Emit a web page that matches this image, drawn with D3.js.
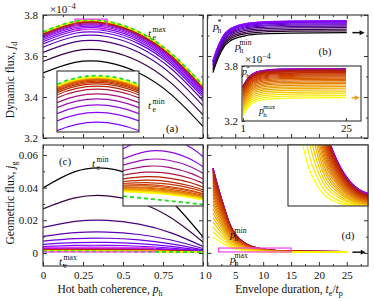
<!DOCTYPE html>
<html>
<head>
<meta charset="utf-8">
<script src="https://cdn.jsdelivr.net/npm/d3@7"></script>
<style>
body { margin: 0; background: #fff; }
svg text { font-family: "Liberation Serif", "Times New Roman", serif; fill: #111; }
.tick text { font-size: 11px; font-family: "Liberation Serif", serif; fill: #111; }
.tick line { stroke: #333; stroke-width: 1; }
.domain { display: none; }
.frame { fill: none; stroke: #333; stroke-width: 1.1; }
.curve { fill: none; stroke-width: 1.2; }
.limit { fill: none; stroke: #1ee01e; stroke-width: 1.8; stroke-dasharray: 4,3; }
.zoombox { fill: none; stroke: #f040f0; stroke-width: 1.2; }
</style>
</head>
<body>
<svg id="fig" width="374" height="301"></svg>
<script>
// ---- data ----
// panels (a),(c): one curve per envelope duration t_e, sampled along p_h
var teA = [1, 2, 3, 4, 5, 6, 7, 8, 9, 10, 11, 12, 13, 14, 15, 16, 17, 18, 19, 20, 21, 22, 23, 24, 25];
var phA = [0, 0.2, 0.4, 0.6, 0.8, 1];
// dynamic flux j_d, units of 1e-4
var jdA = [
    [3.517, 3.569, 3.569, 3.517, 3.413, 3.257],
    [3.573, 3.625, 3.625, 3.573, 3.469, 3.313],
    [3.617, 3.669, 3.669, 3.617, 3.513, 3.357],
    [3.643, 3.695, 3.695, 3.643, 3.539, 3.383],
    [3.659, 3.711, 3.711, 3.659, 3.555, 3.399],
    [3.670, 3.722, 3.722, 3.670, 3.566, 3.410],
    [3.679, 3.731, 3.731, 3.679, 3.575, 3.419],
    [3.687, 3.739, 3.739, 3.687, 3.583, 3.427],
    [3.693, 3.745, 3.745, 3.693, 3.589, 3.433],
    [3.698, 3.750, 3.750, 3.698, 3.594, 3.438],
    [3.702, 3.754, 3.754, 3.702, 3.598, 3.442],
    [3.706, 3.758, 3.758, 3.706, 3.602, 3.446],
    [3.7085, 3.7605, 3.7605, 3.7085, 3.6045, 3.4485],
    [3.7102, 3.7622, 3.7622, 3.7102, 3.6062, 3.4502],
    [3.7115, 3.7635, 3.7635, 3.7115, 3.6075, 3.4515],
    [3.7125, 3.7645, 3.7645, 3.7125, 3.6085, 3.4525],
    [3.7133, 3.7653, 3.7653, 3.7133, 3.6093, 3.4533],
    [3.7139, 3.7659, 3.7659, 3.7139, 3.6099, 3.4539],
    [3.7144, 3.7664, 3.7664, 3.7144, 3.6104, 3.4544],
    [3.7148, 3.7668, 3.7668, 3.7148, 3.6108, 3.4548],
    [3.7151, 3.7671, 3.7671, 3.7151, 3.6111, 3.4551],
    [3.7154, 3.7674, 3.7674, 3.7154, 3.6114, 3.4554],
    [3.7156, 3.7676, 3.7676, 3.7156, 3.6116, 3.4556],
    [3.7158, 3.7678, 3.7678, 3.7158, 3.6118, 3.4558],
    [3.716, 3.768, 3.768, 3.716, 3.612, 3.456]
];
var jdLimit = [3.717, 3.769, 3.769, 3.717, 3.613, 3.457];
// geometric flux j_g, units of 1e-3
var jgA = [
    [39.8, 49.8, 51.8, 45.8, 31.8, 9.8],
    [27.0, 33.7, 35.0, 30.9, 21.5, 6.7],
    [15.6, 19.3, 20.0, 17.6, 12.3, 4.0],
    [10.1, 12.4, 12.8, 11.3, 7.9, 2.7],
    [7.23, 8.74, 8.98, 7.94, 5.59, 1.95],
    [5.29, 6.30, 6.43, 5.68, 4.03, 1.48],
    [3.93, 4.59, 4.65, 4.10, 2.94, 1.16],
    [3.04, 3.46, 3.47, 3.07, 2.22, 0.94],
    [2.61, 2.92, 2.91, 2.57, 1.88, 0.84],
    [2.34, 2.58, 2.55, 2.25, 1.66, 0.78],
    [2.11, 2.29, 2.25, 1.98, 1.47, 0.72],
    [1.91, 2.04, 1.99, 1.76, 1.32, 0.67],
    [1.76, 1.85, 1.79, 1.58, 1.19, 0.64],
    [1.64, 1.70, 1.64, 1.44, 1.10, 0.61],
    [1.56, 1.60, 1.53, 1.35, 1.04, 0.59],
    [1.49, 1.51, 1.43, 1.26, 0.97, 0.57],
    [1.45, 1.46, 1.38, 1.22, 0.94, 0.56],
    [1.40, 1.40, 1.32, 1.16, 0.91, 0.55],
    [1.37, 1.36, 1.27, 1.12, 0.88, 0.54],
    [1.33, 1.32, 1.23, 1.09, 0.85, 0.54],
    [1.31, 1.28, 1.20, 1.05, 0.83, 0.53],
    [1.28, 1.25, 1.16, 1.02, 0.81, 0.52],
    [1.26, 1.22, 1.13, 1.00, 0.79, 0.52],
    [1.23, 1.19, 1.10, 0.97, 0.77, 0.51],
    [1.21, 1.16, 1.08, 0.95, 0.76, 0.51]
];
var jgLimit = [1.02, 0.92, 0.82, 0.72, 0.60, 0.46];

// panels (b),(d): one curve per hot bath coherence p_h, sampled along t_e/t_p
var teB = [1, 1.5, 2, 3, 4, 5, 7, 10, 15, 25];
var phB = [0, 0.025, 0.05, 0.075, 0.1, 0.125, 0.15, 0.175, 0.2, 0.225, 0.25, 0.275, 0.3,
    0.325, 0.35, 0.375, 0.4, 0.425, 0.45, 0.475, 0.5, 0.525, 0.55, 0.575, 0.6, 0.625, 0.65,
    0.675, 0.7, 0.725, 0.75, 0.775, 0.8, 0.825, 0.85, 0.875, 0.9, 0.925, 0.95, 0.975, 1];
var jdB = [
    [3.519, 3.559, 3.594, 3.646, 3.672, 3.686, 3.700, 3.708, 3.712, 3.714],
    [3.528, 3.568, 3.603, 3.655, 3.681, 3.695, 3.709, 3.717, 3.721, 3.723],
    [3.536, 3.576, 3.611, 3.663, 3.689, 3.703, 3.717, 3.725, 3.729, 3.731],
    [3.544, 3.584, 3.619, 3.671, 3.697, 3.711, 3.725, 3.733, 3.737, 3.739],
    [3.551, 3.591, 3.626, 3.678, 3.704, 3.718, 3.732, 3.740, 3.744, 3.746],
    [3.557, 3.597, 3.632, 3.684, 3.710, 3.724, 3.738, 3.746, 3.750, 3.752],
    [3.562, 3.602, 3.637, 3.689, 3.715, 3.729, 3.743, 3.751, 3.755, 3.757],
    [3.567, 3.607, 3.642, 3.694, 3.720, 3.734, 3.748, 3.756, 3.760, 3.762],
    [3.571, 3.611, 3.646, 3.698, 3.724, 3.738, 3.752, 3.760, 3.764, 3.766],
    [3.573, 3.613, 3.648, 3.700, 3.726, 3.740, 3.754, 3.762, 3.766, 3.768],
    [3.575, 3.615, 3.650, 3.702, 3.728, 3.742, 3.756, 3.764, 3.768, 3.770],
    [3.577, 3.617, 3.652, 3.704, 3.730, 3.744, 3.758, 3.766, 3.770, 3.772],
    [3.577, 3.617, 3.652, 3.704, 3.730, 3.744, 3.758, 3.766, 3.770, 3.772],
    [3.577, 3.617, 3.652, 3.704, 3.730, 3.744, 3.758, 3.766, 3.770, 3.772],
    [3.575, 3.615, 3.650, 3.702, 3.728, 3.742, 3.756, 3.764, 3.768, 3.770],
    [3.573, 3.613, 3.648, 3.700, 3.726, 3.740, 3.754, 3.762, 3.766, 3.768],
    [3.571, 3.611, 3.646, 3.698, 3.724, 3.738, 3.752, 3.760, 3.764, 3.766],
    [3.567, 3.607, 3.642, 3.694, 3.720, 3.734, 3.748, 3.756, 3.760, 3.762],
    [3.562, 3.602, 3.637, 3.689, 3.715, 3.729, 3.743, 3.751, 3.755, 3.757],
    [3.557, 3.597, 3.632, 3.684, 3.710, 3.724, 3.738, 3.746, 3.750, 3.752],
    [3.551, 3.591, 3.626, 3.678, 3.704, 3.718, 3.732, 3.740, 3.744, 3.746],
    [3.544, 3.584, 3.619, 3.671, 3.697, 3.711, 3.725, 3.733, 3.737, 3.739],
    [3.536, 3.576, 3.611, 3.663, 3.689, 3.703, 3.717, 3.725, 3.729, 3.731],
    [3.528, 3.568, 3.603, 3.655, 3.681, 3.695, 3.709, 3.717, 3.721, 3.723],
    [3.519, 3.559, 3.594, 3.646, 3.672, 3.686, 3.700, 3.708, 3.712, 3.714],
    [3.508, 3.548, 3.583, 3.635, 3.661, 3.675, 3.689, 3.697, 3.701, 3.703],
    [3.497, 3.537, 3.572, 3.624, 3.650, 3.664, 3.678, 3.686, 3.690, 3.692],
    [3.486, 3.526, 3.561, 3.613, 3.639, 3.653, 3.667, 3.675, 3.679, 3.681],
    [3.473, 3.513, 3.548, 3.600, 3.626, 3.640, 3.654, 3.662, 3.666, 3.668],
    [3.460, 3.500, 3.535, 3.587, 3.613, 3.627, 3.641, 3.649, 3.653, 3.655],
    [3.445, 3.485, 3.520, 3.572, 3.598, 3.612, 3.626, 3.634, 3.638, 3.640],
    [3.430, 3.470, 3.505, 3.557, 3.583, 3.597, 3.611, 3.619, 3.623, 3.625],
    [3.415, 3.455, 3.490, 3.542, 3.568, 3.582, 3.596, 3.604, 3.608, 3.610],
    [3.398, 3.438, 3.473, 3.525, 3.551, 3.565, 3.579, 3.587, 3.591, 3.593],
    [3.380, 3.420, 3.455, 3.507, 3.533, 3.547, 3.561, 3.569, 3.573, 3.575],
    [3.362, 3.402, 3.437, 3.489, 3.515, 3.529, 3.543, 3.551, 3.555, 3.557],
    [3.343, 3.383, 3.418, 3.470, 3.496, 3.510, 3.524, 3.532, 3.536, 3.538],
    [3.323, 3.363, 3.398, 3.450, 3.476, 3.490, 3.504, 3.512, 3.516, 3.518],
    [3.302, 3.342, 3.377, 3.429, 3.455, 3.469, 3.483, 3.491, 3.495, 3.497],
    [3.281, 3.321, 3.356, 3.408, 3.434, 3.448, 3.462, 3.470, 3.474, 3.476],
    [3.259, 3.299, 3.334, 3.386, 3.412, 3.426, 3.440, 3.448, 3.452, 3.454]
];
var phD = [0.3, 0.325, 0.35, 0.375, 0.4, 0.425, 0.45, 0.475, 0.5, 0.525, 0.55, 0.575, 0.6, 0.625,
    0.65, 0.675, 0.7, 0.725, 0.75, 0.775, 0.8, 0.825, 0.85, 0.875, 0.9, 0.925, 0.95, 0.975, 1];
var jgD = [
    [51.75, 45.13, 39.03, 27.83, 17.65, 11.54, 5.43, 2.38, 1.10, 0.85],
    [51.94, 45.30, 39.17, 27.92, 17.70, 11.57, 5.44, 2.37, 1.10, 0.84],
    [52.00, 45.35, 39.21, 27.95, 17.71, 11.57, 5.43, 2.36, 1.08, 0.82],
    [51.94, 45.29, 39.16, 27.91, 17.68, 11.55, 5.41, 2.34, 1.07, 0.81],
    [51.75, 45.13, 39.01, 27.80, 17.61, 11.50, 5.39, 2.33, 1.05, 0.80],
    [51.44, 44.85, 38.78, 27.63, 17.50, 11.42, 5.34, 2.30, 1.03, 0.78],
    [51.00, 44.47, 38.44, 27.39, 17.35, 11.32, 5.29, 2.28, 1.02, 0.77],
    [50.44, 43.98, 38.02, 27.09, 17.15, 11.18, 5.22, 2.24, 1.00, 0.75],
    [49.75, 43.38, 37.50, 26.72, 16.91, 11.03, 5.15, 2.21, 0.99, 0.74],
    [48.94, 42.67, 36.89, 26.28, 16.64, 10.85, 5.07, 2.18, 0.97, 0.73],
    [48.00, 41.85, 36.18, 25.77, 16.32, 10.64, 4.97, 2.13, 0.95, 0.71],
    [46.94, 40.93, 35.38, 25.21, 15.96, 10.41, 4.86, 2.09, 0.93, 0.70],
    [45.75, 39.89, 34.48, 24.57, 15.55, 10.14, 4.74, 2.03, 0.91, 0.68],
    [44.44, 38.75, 33.50, 23.87, 15.11, 9.86, 4.61, 1.98, 0.89, 0.67],
    [43.00, 37.50, 32.42, 23.10, 14.63, 9.55, 4.47, 1.93, 0.87, 0.66],
    [41.44, 36.14, 31.24, 22.26, 14.10, 9.21, 4.31, 1.86, 0.84, 0.64],
    [39.75, 34.66, 29.97, 21.36, 13.54, 8.85, 4.15, 1.80, 0.83, 0.63],
    [37.94, 33.09, 28.61, 20.39, 12.93, 8.45, 3.97, 1.73, 0.80, 0.61],
    [36.00, 31.40, 27.15, 19.36, 12.28, 8.03, 3.79, 1.66, 0.78, 0.60],
    [33.94, 29.60, 25.60, 18.27, 11.60, 7.59, 3.59, 1.59, 0.76, 0.59],
    [31.75, 27.70, 23.96, 17.10, 10.86, 7.12, 3.38, 1.51, 0.73, 0.57],
    [29.44, 25.69, 22.22, 15.87, 10.09, 6.62, 3.16, 1.43, 0.70, 0.56],
    [27.00, 23.56, 20.39, 14.56, 9.27, 6.10, 2.92, 1.33, 0.67, 0.54],
    [24.44, 21.33, 18.46, 13.20, 8.42, 5.55, 2.68, 1.25, 0.65, 0.53],
    [21.75, 18.99, 16.44, 11.77, 7.53, 4.98, 2.43, 1.16, 0.63, 0.52],
    [18.94, 16.54, 14.33, 10.27, 6.59, 4.37, 2.16, 1.05, 0.59, 0.50],
    [16.00, 13.98, 12.12, 8.71, 5.61, 3.75, 1.89, 0.96, 0.57, 0.49],
    [12.94, 11.32, 9.82, 7.08, 4.59, 3.09, 1.59, 0.84, 0.53, 0.47],
    [9.75, 8.54, 7.43, 5.38, 3.53, 2.41, 1.30, 0.74, 0.51, 0.46]
];

// ticks
var phTicks = [0, 0.25, 0.5, 0.75, 1];
var phMinor = [0.125, 0.375, 0.625, 0.875];
var teTicks = [0, 5, 10, 15, 20, 25];
var teMinor = [2.5, 7.5, 12.5, 17.5, 22.5, 27.5];
var jdTicks = [3.2, 3.4, 3.6, 3.8];
var jdMinor = [3.3, 3.5, 3.7];
var jgTicks = [0, 20, 40, 60];
var jgMinor = [10, 30, 50];

// ---- layout ----
var svg = d3.select("#fig");
var defs = svg.append("defs");

var xP = d3.scaleLinear().domain([0, 1]).range([43, 203]);
var xT = d3.scaleLinear().domain([0, 28.8]).range([207.4, 368]);
var yD = d3.scaleLinear().domain([3.2, 3.8]).range([138, 15]);
var yG = d3.scaleLinear().domain([-8, 66.1]).range([266, 145]);

// gnuplot-like palette (black - purple - red - yellow)
function pal(v) {
    var r = Math.sqrt(v), g = Math.pow(v, 3), b = Math.max(0, Math.sin(2 * Math.PI * v));
    return d3.rgb(255 * r, 255 * g, 255 * b).toString();
}

function clipFor(id, x, y) {
    var r = [x.range()[0], y.range()[1], x.range()[1] - x.range()[0], y.range()[0] - y.range()[1]];
    defs.append("clipPath").attr("id", id).append("rect")
        .attr("x", r[0]).attr("y", r[1]).attr("width", r[2]).attr("height", r[3]);
    return "url(#" + id + ")";
}

function frame(g, x, y, o) {
    var x0 = x.range()[0], x1 = x.range()[1], y0 = y.range()[1], y1 = y.range()[0];
    var bot = g.append("g").attr("transform", "translate(0," + y1 + ")")
        .call(d3.axisBottom(x).tickValues(o.xMaj).tickSizeInner(-4).tickSizeOuter(0).tickPadding(5).tickFormat(o.xFmt || ""));
    g.append("g").attr("transform", "translate(0," + y1 + ")")
        .call(d3.axisBottom(x).tickValues(o.xMin).tickSizeInner(-2).tickSizeOuter(0).tickFormat(""));
    g.append("g").attr("transform", "translate(0," + y0 + ")")
        .call(d3.axisBottom(x).tickValues(o.xMaj).tickSizeInner(4).tickSizeOuter(0).tickFormat(""));
    g.append("g").attr("transform", "translate(0," + y0 + ")")
        .call(d3.axisBottom(x).tickValues(o.xMin).tickSizeInner(2).tickSizeOuter(0).tickFormat(""));
    g.append("g").attr("transform", "translate(" + x0 + ",0)")
        .call(d3.axisLeft(y).tickValues(o.yMaj).tickSizeInner(-4).tickSizeOuter(0).tickPadding(5).tickFormat(o.yFmt || ""));
    g.append("g").attr("transform", "translate(" + x0 + ",0)")
        .call(d3.axisLeft(y).tickValues(o.yMin).tickSizeInner(-2).tickSizeOuter(0).tickFormat(""));
    g.append("g").attr("transform", "translate(" + x1 + ",0)")
        .call(d3.axisLeft(y).tickValues(o.yMaj).tickSizeInner(4).tickSizeOuter(0).tickFormat(""));
    g.append("g").attr("transform", "translate(" + x1 + ",0)")
        .call(d3.axisLeft(y).tickValues(o.yMin).tickSizeInner(2).tickSizeOuter(0).tickFormat(""));
    g.append("rect").attr("class", "frame")
        .attr("x", x0).attr("y", y0).attr("width", x1 - x0).attr("height", y1 - y0);
    return bot;
}

function lineOver(xs, x, y, curve) {
    return d3.line()
        .x(function(d, i) { return x(xs[i]); })
        .y(function(d) { return y(d); })
        .curve(curve);
}

function drawCurves(g, rows, gen, colorOf, width) {
    g.selectAll(null)
        .data(rows)
        .enter().append("path")
        .attr("class", "curve")
        .attr("d", gen)
        .attr("stroke", function(d, i) { return colorOf(i); })
        .attr("stroke-width", width || 1.2);
}

function inset(g, id, x, y) {
    var x0 = x.range()[0], x1 = x.range()[1], y0 = y.range()[1], y1 = y.range()[0];
    g.append("rect").attr("x", x0).attr("y", y0).attr("width", x1 - x0).attr("height", y1 - y0).attr("fill", "#fff");
    var c = g.append("g").attr("clip-path", clipFor(id, x, y));
    return c;
}

function zoomBox(g, x, y, xd, yd) {
    g.append("rect").attr("class", "zoombox")
        .attr("x", x(xd[0])).attr("y", y(yd[1]))
        .attr("width", x(xd[1]) - x(xd[0])).attr("height", y(yd[0]) - y(yd[1]));
}

function sym(g, x, y, base, sub, sup, fs) {
    fs = fs || 11;
    g.append("text").attr("x", x).attr("y", y).attr("font-size", fs).attr("font-style", "italic").text(base);
    var dx = fs * 0.42;
    if (sub) g.append("text").attr("x", x + dx).attr("y", y + 2.5).attr("font-size", fs * 0.7).text(sub);
    if (sup) g.append("text").attr("x", x + dx).attr("y", y - 5).attr("font-size", fs * 0.7).text(sup);
}

function arrow(g, xa, xb, y, color) {
    g.append("line").attr("x1", xa).attr("x2", xb - 3).attr("y1", y).attr("y2", y)
        .attr("stroke", color).attr("stroke-width", 1.5);
    g.append("path").attr("d", "M" + xb + "," + y + "l-5,-2.5v5z").attr("fill", color);
}

function expo(g, x, y) {
    var t = g.append("text").attr("x", x).attr("y", y).attr("font-size", 11);
    t.append("tspan").text("\u00d710");
    t.append("tspan").attr("dy", -4.5).attr("font-size", 8).text("\u22124");
}

var jdFmt = d3.format(".1f");
var jgFmt = function(d) { return d === 0 ? "0" : d3.format(".2f")(d / 1000); };
var phFmt = function(d) { return d === 0 ? "0" : d === 1 ? "1" : String(d); };

// ---- panel (a) ----
var ga = svg.append("g");
var ca = ga.append("g").attr("clip-path", clipFor("clipA", xP, yD));
drawCurves(ca, jdA, lineOver(phA, xP, yD, d3.curveNatural), function(i) { return pal((teA[i] - 1) / 24); });
ca.append("path").attr("class", "limit").attr("d", lineOver(phA, xP, yD, d3.curveNatural)(jdLimit));
zoomBox(ga, xP, yD, [0.2, 0.4], [3.73, 3.78]);
frame(ga, xP, yD, { xMaj: phTicks, xMin: phMinor, yMaj: jdTicks, yMin: jdMinor, yFmt: jdFmt });

var xAi = d3.scaleLinear().domain([0.2, 0.4]).range([57, 139]);
var yAi = d3.scaleLinear().domain([3.73, 3.78]).range([132, 71]);
var ia = inset(ga, "clipAi", xAi, yAi);
drawCurves(ia, jdA, lineOver(phA, xAi, yAi, d3.curveNatural), function(i) { return pal((teA[i] - 1) / 24); }, 1.4);
ia.append("path").attr("class", "limit").attr("d", lineOver(phA, xAi, yAi, d3.curveNatural)(jdLimit));
ga.append("rect").attr("class", "frame").attr("stroke", "#111")
    .attr("x", 57).attr("y", 71).attr("width", 82).attr("height", 61);

expo(ga, 50, 13);
sym(ga, 148, 37, "t", "e", "max");
sym(ga, 148, 109, "t", "e", "min");
ga.append("text").attr("x", 172).attr("y", 132).attr("font-size", 11).attr("text-anchor", "middle").text("(a)");

// ---- panel (b) ----
var gb = svg.append("g");
var cb = gb.append("g").attr("clip-path", clipFor("clipB", xT, yD));
var nStar = phB.indexOf(0.3);
var mainB = jdB.slice(0, nStar + 1);
drawCurves(cb, mainB, lineOver(teB, xT, yD, d3.curveMonotoneX), function(i) { return pal(phB[i]); }, 1.3);
frame(gb, xT, yD, { xMaj: teTicks, xMin: teMinor, yMaj: jdTicks, yMin: jdMinor });
arrow(gb, xT(26), xT(28.2), yD(jdB[0][teB.length - 1]), "#111");

var xBi = d3.scaleLinear().domain([0.8, 28.5]).range([242, 361]);
var yBi = d3.scaleLinear().domain([3.2, 3.8]).range([121, 66]);
var ib = inset(gb, "clipBi", xBi, yBi);
var insetB = jdB.slice(nStar);
drawCurves(ib, insetB, lineOver(teB, xBi, yBi, d3.curveMonotoneX), function(i) { return pal(phB[i + nStar]); }, 1.3);
gb.append("rect").attr("class", "frame").attr("stroke", "#111")
    .attr("x", 242).attr("y", 66).attr("width", 119).attr("height", 55);
gb.append("g").attr("transform", "translate(0,121)")
    .call(d3.axisBottom(xBi).tickValues([1, 25]).tickSizeInner(-3).tickSizeOuter(0).tickPadding(3).tickFormat(d3.format("d")));
gb.append("g").attr("transform", "translate(242,0)")
    .call(d3.axisLeft(yBi).tickValues([3.2, 3.8]).tickSizeInner(-3).tickSizeOuter(0).tickPadding(4).tickFormat(jdFmt));
arrow(gb, xBi(26.3), xBi(28.2), yBi(jdB[jdB.length - 1][teB.length - 1]), "#f0a010");
expo(gb, 245, 63);

sym(gb, 213, 30, "p", "h", "*");
sym(gb, 235, 50, "p", "h", "min");
sym(gb, 242, 75, "p", "h", "*", 10);
sym(gb, 259, 114, "p", "h", "max", 10);
gb.append("text").attr("x", 325).attr("y", 55).attr("font-size", 11).attr("text-anchor", "middle").text("(b)");

// ---- panel (c) ----
var gc = svg.append("g");
var cc = gc.append("g").attr("clip-path", clipFor("clipC", xP, yG));
drawCurves(cc, jgA, lineOver(phA, xP, yG, d3.curveNatural), function(i) { return pal((teA[i] - 1) / 24); });
cc.append("path").attr("class", "limit").attr("d", lineOver(phA, xP, yG, d3.curveNatural)(jgLimit));
zoomBox(gc, xP, yG, [0, 0.7], [0.6, 3.2]);
var botC = frame(gc, xP, yG, { xMaj: phTicks, xMin: phMinor, yMaj: jgTicks, yMin: jgMinor, xFmt: phFmt, yFmt: jgFmt });
botC.selectAll(".tick text").filter(function(d) { return d === 1; }).attr("dx", -1.5);

var xCi = d3.scaleLinear().domain([0, 0.7]).range([123, 203]);
var yCi = d3.scaleLinear().domain([0.6, 3.2]).range([206, 145]);
var ic = inset(gc, "clipCi", xCi, yCi);
drawCurves(ic, jgA, lineOver(phA, xCi, yCi, d3.curveNatural), function(i) { return pal((teA[i] - 1) / 24); }, 1.4);
ic.append("path").attr("class", "limit").attr("d", lineOver(phA, xCi, yCi, d3.curveNatural)(jgLimit));
gc.append("rect").attr("class", "frame").attr("stroke", "#111")
    .attr("x", 123).attr("y", 145).attr("width", 80).attr("height", 61);

gc.append("text").attr("x", 65).attr("y", 165).attr("font-size", 11).attr("text-anchor", "middle").text("(c)");
sym(gc, 92, 167, "t", "e", "min");
sym(gc, 59, 265, "t", "e", "max");

// ---- panel (d) ----
var gd = svg.append("g");
var cd = gd.append("g").attr("clip-path", clipFor("clipD", xT, yG));
drawCurves(cd, jgD, lineOver(teB, xT, yG, d3.curveMonotoneX), function(i) { return pal(phD[i]); });
zoomBox(gd, xT, yG, [2, 15], [0.6, 3.0]);
var botD = frame(gd, xT, yG, { xMaj: teTicks, xMin: teMinor, yMaj: jgTicks, yMin: jgMinor, xFmt: d3.format("d") });
botD.selectAll(".tick text").filter(function(d) { return d === 0; }).attr("dx", 1);
arrow(gd, xT(26), xT(28.4), yG(jgD[jgD.length - 1][teB.length - 1]), "#111");

var xDi = d3.scaleLinear().domain([2, 15]).range([288, 368]);
var yDi = d3.scaleLinear().domain([0.6, 3.0]).range([206, 145]);
var id_ = inset(gd, "clipDi", xDi, yDi);
drawCurves(id_, jgD, lineOver(teB, xDi, yDi, d3.curveMonotoneX), function(i) { return pal(phD[i]); }, 1.4);
gd.append("rect").attr("class", "frame").attr("stroke", "#111")
    .attr("x", 288).attr("y", 145).attr("width", 80).attr("height", 61);

sym(gd, 230, 238, "p", "h", "min");
sym(gd, 230, 263, "p", "h", "max");
gd.append("text").attr("x", 348).attr("y", 239).attr("font-size", 11).attr("text-anchor", "middle").text("(d)");

// ---- axis titles ----
var t1 = svg.append("text").attr("transform", "translate(14,80) rotate(-90)")
    .attr("text-anchor", "middle").attr("font-size", 11.5);
t1.append("tspan").text("Dynamic flux, ");
t1.append("tspan").attr("font-style", "italic").text("j");
t1.append("tspan").attr("font-size", 8).attr("dy", 2.5).text("d");

var t2 = svg.append("text").attr("transform", "translate(14,203) rotate(-90)")
    .attr("text-anchor", "middle").attr("font-size", 11.5);
t2.append("tspan").text("Geometric flux, ");
t2.append("tspan").attr("font-style", "italic").text("j");
t2.append("tspan").attr("font-size", 8).attr("dy", 2.5).text("g");

var t3 = svg.append("text").attr("x", 110).attr("y", 293).attr("text-anchor", "middle").attr("font-size", 11.5);
t3.append("tspan").text("Hot bath coherence, ");
t3.append("tspan").attr("font-style", "italic").text("p");
t3.append("tspan").attr("font-size", 8).attr("dy", 2.5).text("h");

var t4 = svg.append("text").attr("x", 289).attr("y", 293).attr("text-anchor", "middle").attr("font-size", 11.5);
t4.append("tspan").text("Envelope duration, ");
t4.append("tspan").attr("font-style", "italic").text("t");
t4.append("tspan").attr("font-size", 8).attr("dy", 2.5).text("e");
t4.append("tspan").attr("dy", -2.5).text("/");
t4.append("tspan").attr("font-style", "italic").text("t");
t4.append("tspan").attr("font-size", 8).attr("dy", 2.5).text("p");
</script>
</body>
</html>
